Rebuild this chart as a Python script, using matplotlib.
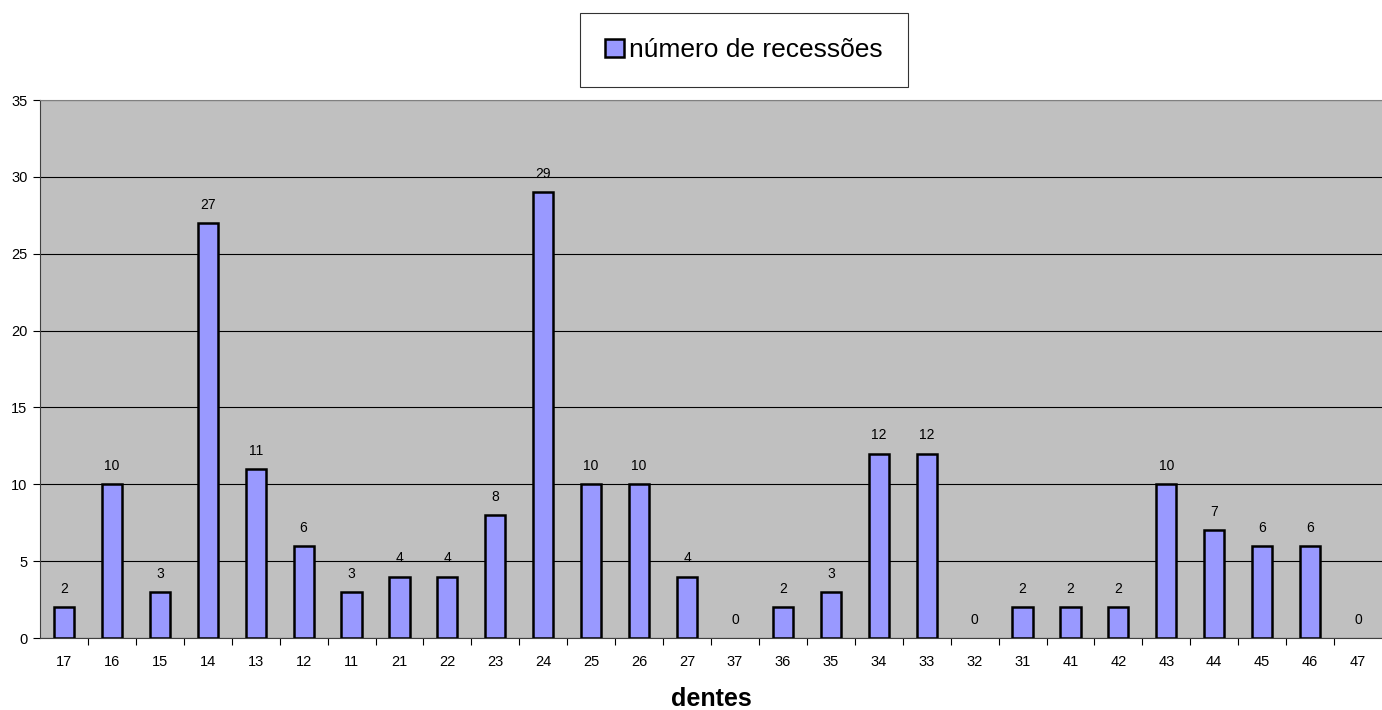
import matplotlib
matplotlib.use("Agg")
import matplotlib.pyplot as plt
import numpy as np

plt.rcParams['font.family'] = ['Liberation Sans', 'DejaVu Sans']

# dados
dentes = ['17', '16', '15', '14', '13', '12', '11', '21', '22', '23', '24', '25', '26', '27',
          '37', '36', '35', '34', '33', '32', '31', '41', '42', '43', '44', '45', '46', '47']
recessoes = [2, 10, 3, 27, 11, 6, 3, 4, 4, 8, 29, 10, 10, 4,
             0, 2, 3, 12, 12, 0, 2, 2, 2, 10, 7, 6, 6, 0]

fig = plt.figure(figsize=(13.82, 7.10), dpi=100)
ax = fig.add_axes([40 / 1382, 72 / 710, 1 - 40 / 1382, 538 / 710])
ax.set_facecolor('#C0C0C0')

x = np.arange(len(dentes))
# barras de altura zero ficam sem contorno
bordas = ['black' if v > 0 else 'none' for v in recessoes]
ax.bar(x, recessoes, width=0.42, color='#9999FF', edgecolor=bordas, linewidth=1.8,
       label='número de recessões', zorder=3)

# rótulos de valor
for xi, v in zip(x, recessoes):
    ax.annotate(str(v), (xi, v), xytext=(0, 8), textcoords='offset points',
                ha='center', va='bottom', fontsize=10)

ax.set_xlim(-0.5, len(dentes) - 0.5)
ax.set_ylim(0, 35)
ax.set_yticks(range(0, 36, 5))
ax.yaxis.grid(True, color='black', linewidth=0.8, zorder=0)
ax.set_axisbelow(True)

# marcas entre categorias
ax.set_xticks(x[:-1] + 0.5)
ax.set_xticklabels([])
ax.set_xticks(x, minor=True)
ax.set_xticklabels(dentes, minor=True)
ax.tick_params(axis='x', which='minor', length=0, pad=12, labelsize=10.5)
ax.tick_params(axis='x', which='major', length=5, direction='out')
ax.tick_params(axis='y', length=5, direction='out', labelsize=10.5, pad=4)

ax.spines['top'].set_color('#808080')
ax.spines['right'].set_visible(False)
ax.spines['left'].set_color('#404040')
ax.spines['bottom'].set_color('#404040')

ax.set_xlabel('dentes', fontsize=18, fontweight='bold', labelpad=13)

leg = fig.legend(loc='center', bbox_to_anchor=(744 / 1382, 1 - 50 / 710), fontsize=19,
                 frameon=True, fancybox=False, edgecolor='black', handlelength=0.7,
                 handleheight=0.7, handletextpad=0.2, borderpad=0.95, borderaxespad=0)
leg.get_frame().set_linewidth(0.8)

fig.savefig('out.png', dpi=100)
